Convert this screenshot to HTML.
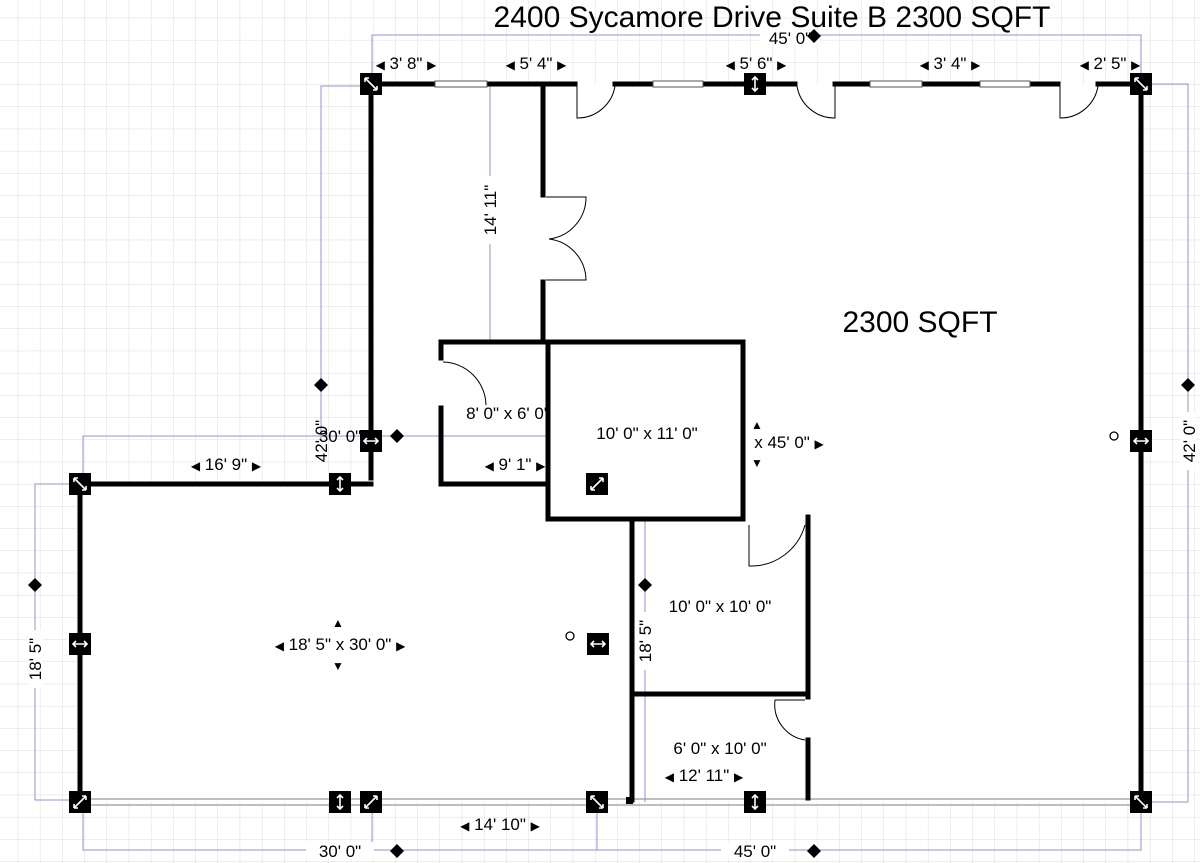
<!DOCTYPE html>
<html><head><meta charset="utf-8"><style>
html,body{margin:0;padding:0;background:#fff}
svg{display:block}
text{font-family:"Liberation Sans",sans-serif;fill:#000}
tspan.a{font-size:12px}
</style></head><body>
<svg width="1200" height="863" viewBox="0 0 1200 863" xmlns="http://www.w3.org/2000/svg">
<defs>
<pattern id="g" width="22.2" height="22.2" patternUnits="userSpaceOnUse" x="-4" y="-4">
<path d="M22.2 0V22.2H0" fill="none" stroke="#dcdcdc" stroke-width="1"/>
</pattern>
<g id="m"><rect x="-11" y="-11" width="22" height="22" fill="#000"/></g>
</defs>
<rect width="1200" height="863" fill="url(#g)"/>
<path d="M371 84H1141V802H80V484H371Z" fill="#fff"/>
<g stroke="#8f8fe0" stroke-width="1" fill="none">
<path d="M372 84V35H1141V84"/>
<path d="M370 86H321V441"/>
<path d="M1141 84H1188V802H1141"/>
<path d="M80 484H35V800H80"/>
<path d="M83 802V850H372"/><path d="M372 802V850H1141V802"/>
<path d="M597 802V850"/>
<path d="M83 484V436H548"/>
<path d="M490 84V340H543"/>
<path d="M645 519V802"/>
</g>
<rect x="760" y="28" width="60" height="16" fill="#fff"/>
<rect x="1180" y="412" width="16" height="58" fill="#fff"/>
<rect x="27" y="630" width="16" height="58" fill="#fff"/>
<rect x="306" y="842" width="68" height="16" fill="#fff"/>
<rect x="721" y="842" width="68" height="16" fill="#fff"/>
<rect x="482" y="176" width="16" height="68" fill="#fff"/>
<rect x="637" y="612" width="16" height="58" fill="#fff"/>
<g stroke="#999" stroke-width="1.2">
<line x1="80" y1="799" x2="1141" y2="799"/>
<line x1="80" y1="805" x2="1141" y2="805"/>
</g>
<g stroke="#000" stroke-width="5" fill="none" stroke-linecap="square">
<path d="M371 84H435M487 84H575"/>
<path d="M615 84H653M703 84H795"/>
<path d="M835 84H870M922 84H980M1030 84H1058M1098 84H1141"/>
<path d="M1141 84V802"/>
<path d="M371 84V478"/>
<path d="M80 484H371"/>
<path d="M80 484V802"/>
<path d="M543 84V195M543 282V342"/>
<rect x="548" y="342" width="195" height="177"/>
<path d="M548 342H441V358M441 408V484H548"/>
<path d="M632 519V800"/>
<path d="M808 517V697M632 694H808M808 740V798"/>
</g>
<rect x="626" y="797" width="7" height="7" fill="#000"/>
<g fill="#fff" stroke="#555" stroke-width="1">
<rect x="435" y="81" width="52" height="6"/>
<rect x="653" y="81" width="50" height="6"/>
<rect x="870" y="81" width="52" height="6"/>
<rect x="980" y="81" width="50" height="6"/>
</g>
<g stroke="#000" stroke-width="1" fill="none">
<path d="M577 86V118A38 38 0 0 0 615 86"/>
<path d="M797 86A38 38 0 0 0 835 118V86"/>
<path d="M1060 86V118A38 38 0 0 0 1098 86"/>
<path d="M546 197H586A42 42 0 0 1 549 239"/>
<path d="M546 280H586A42 42 0 0 0 549 239"/>
<path d="M443 362A44 44 0 0 1 486 405"/>
<path d="M749 525V566A56 56 0 0 0 805 525"/>
<path d="M805 700H775A36 36 0 0 0 805 740"/>
</g>
<g>
<use href="#m" x="371" y="84"/><use href="#m" x="755" y="84"/><use href="#m" x="1141" y="84"/>
<use href="#m" x="371" y="441"/><use href="#m" x="340" y="484"/><use href="#m" x="80" y="484"/>
<use href="#m" x="1141" y="441"/><use href="#m" x="80" y="644"/><use href="#m" x="598" y="644"/>
<use href="#m" x="597" y="484"/>
<use href="#m" x="80" y="802"/><use href="#m" x="340" y="802"/><use href="#m" x="371" y="802"/>
<use href="#m" x="597" y="802"/><use href="#m" x="755" y="802"/><use href="#m" x="1141" y="802"/>
</g>
<g stroke="#fff" stroke-width="1.6" fill="none">
<path d="M365 78L377 90M365 78h4M365 78v4M377 90h-4M377 90v-4"/>
<path d="M1135 78L1147 90M1135 78h4M1135 78v4M1147 90h-4M1147 90v-4"/>
<path d="M74 478L86 490M74 478h4M74 478v4M86 490h-4M86 490v-4"/>
<path d="M591 796L603 808M591 796h4M591 796v4M603 808h-4M603 808v-4"/>
<path d="M1135 796L1147 808M1135 796h4M1135 796v4M1147 808h-4M1147 808v-4"/>
<path d="M74 808L86 796M74 808h4M74 808v-4M86 796h-4M86 796v4"/>
<path d="M365 808L377 796M365 808h4M365 808v-4M377 796h-4M377 796v4"/>
<path d="M591 490L603 478M591 490h4M591 490v-4M603 478h-4M603 478v4"/>
<path d="M755 77V91M752 80L755 77L758 80M752 88L755 91L758 88"/>
<path d="M340 477V491M337 480L340 477L343 480M337 488L340 491L343 488"/>
<path d="M340 795V809M337 798L340 795L343 798M337 806L340 809L343 806"/>
<path d="M755 795V809M752 798L755 795L758 798M752 806L755 809L758 806"/>
<path d="M364 441H378M367 438L364 441L367 444M375 438L378 441L375 444"/>
<path d="M1134 441H1148M1137 438L1134 441L1137 444M1145 438L1148 441L1145 444"/>
<path d="M73 644H87M76 641L73 644L76 647M84 641L87 644L84 647"/>
<path d="M591 644H605M594 641L591 644L594 647M602 641L605 644L602 647"/>
</g>
<g fill="#000">
<path d="M814 29l7 7-7 7-7-7z"/>
<path d="M321 378l7 7-7 7-7-7z"/>
<path d="M1188 378l7 7-7 7-7-7z"/>
<path d="M397 429l7 7-7 7-7-7z"/>
<path d="M35 578l7 7-7 7-7-7z"/>
<path d="M397 844l7 7-7 7-7-7z"/>
<path d="M814 844l7 7-7 7-7-7z"/>
<path d="M645 578l7 7-7 7-7-7z"/>
</g>
<circle cx="1114" cy="436" r="4" fill="none" stroke="#000" stroke-width="1.3"/>
<circle cx="570" cy="636" r="4" fill="none" stroke="#000" stroke-width="1.3"/>
<text x="772" y="27" font-size="30" text-anchor="middle">2400 Sycamore Drive Suite B 2300 SQFT</text>
<text x="790" y="44" font-size="17" text-anchor="middle">45' 0"</text>
<text x="920" y="332" font-size="30" text-anchor="middle">2300 SQFT</text>
<g font-size="17" text-anchor="middle">
<text x="406" y="69"><tspan class="a">◀</tspan> 3' 8" <tspan class="a">▶</tspan></text>
<text x="536" y="69"><tspan class="a">◀</tspan> 5' 4" <tspan class="a">▶</tspan></text>
<text x="756" y="69"><tspan class="a">◀</tspan> 5' 6" <tspan class="a">▶</tspan></text>
<text x="950" y="69"><tspan class="a">◀</tspan> 3' 4" <tspan class="a">▶</tspan></text>
<text x="1110" y="69"><tspan class="a">◀</tspan> 2' 5" <tspan class="a">▶</tspan></text>
<text x="226" y="470"><tspan class="a">◀</tspan> 16' 9" <tspan class="a">▶</tspan></text>
<text x="515" y="470"><tspan class="a">◀</tspan> 9' 1" <tspan class="a">▶</tspan></text>
<text x="508" y="419">8' 0" x 6' 0"</text>
<text x="647" y="439">10' 0" x 11' 0"</text>
<text x="789" y="448">x 45' 0" <tspan class="a">▶</tspan></text>
<text x="757" y="429" font-size="12">▲</text><text x="757" y="467" font-size="12">▼</text>
<text x="340" y="442">30' 0"</text>
<text x="720" y="612">10' 0" x 10' 0"</text>
<text x="720" y="754">6' 0" x 10' 0"</text>
<text x="704" y="781"><tspan class="a">◀</tspan> 12' 11" <tspan class="a">▶</tspan></text>
<text x="340" y="650"><tspan class="a">◀</tspan> 18' 5" x 30' 0" <tspan class="a">▶</tspan></text>
<text x="338" y="627" font-size="12">▲</text><text x="338" y="670" font-size="12">▼</text>
<text x="500" y="830"><tspan class="a">◀</tspan> 14' 10" <tspan class="a">▶</tspan></text>
<text x="340" y="857">30' 0"</text>
<text x="755" y="857">45' 0"</text>
<text transform="translate(327,441) rotate(-90)">42' 0"</text>
<text transform="translate(1195,441) rotate(-90)">42' 0"</text>
<text transform="translate(41,659) rotate(-90)">18' 5"</text>
<text transform="translate(496,210) rotate(-90)">14' 11"</text>
<text transform="translate(651,641) rotate(-90)">18' 5"</text>
</g>
</svg>
</body></html>
